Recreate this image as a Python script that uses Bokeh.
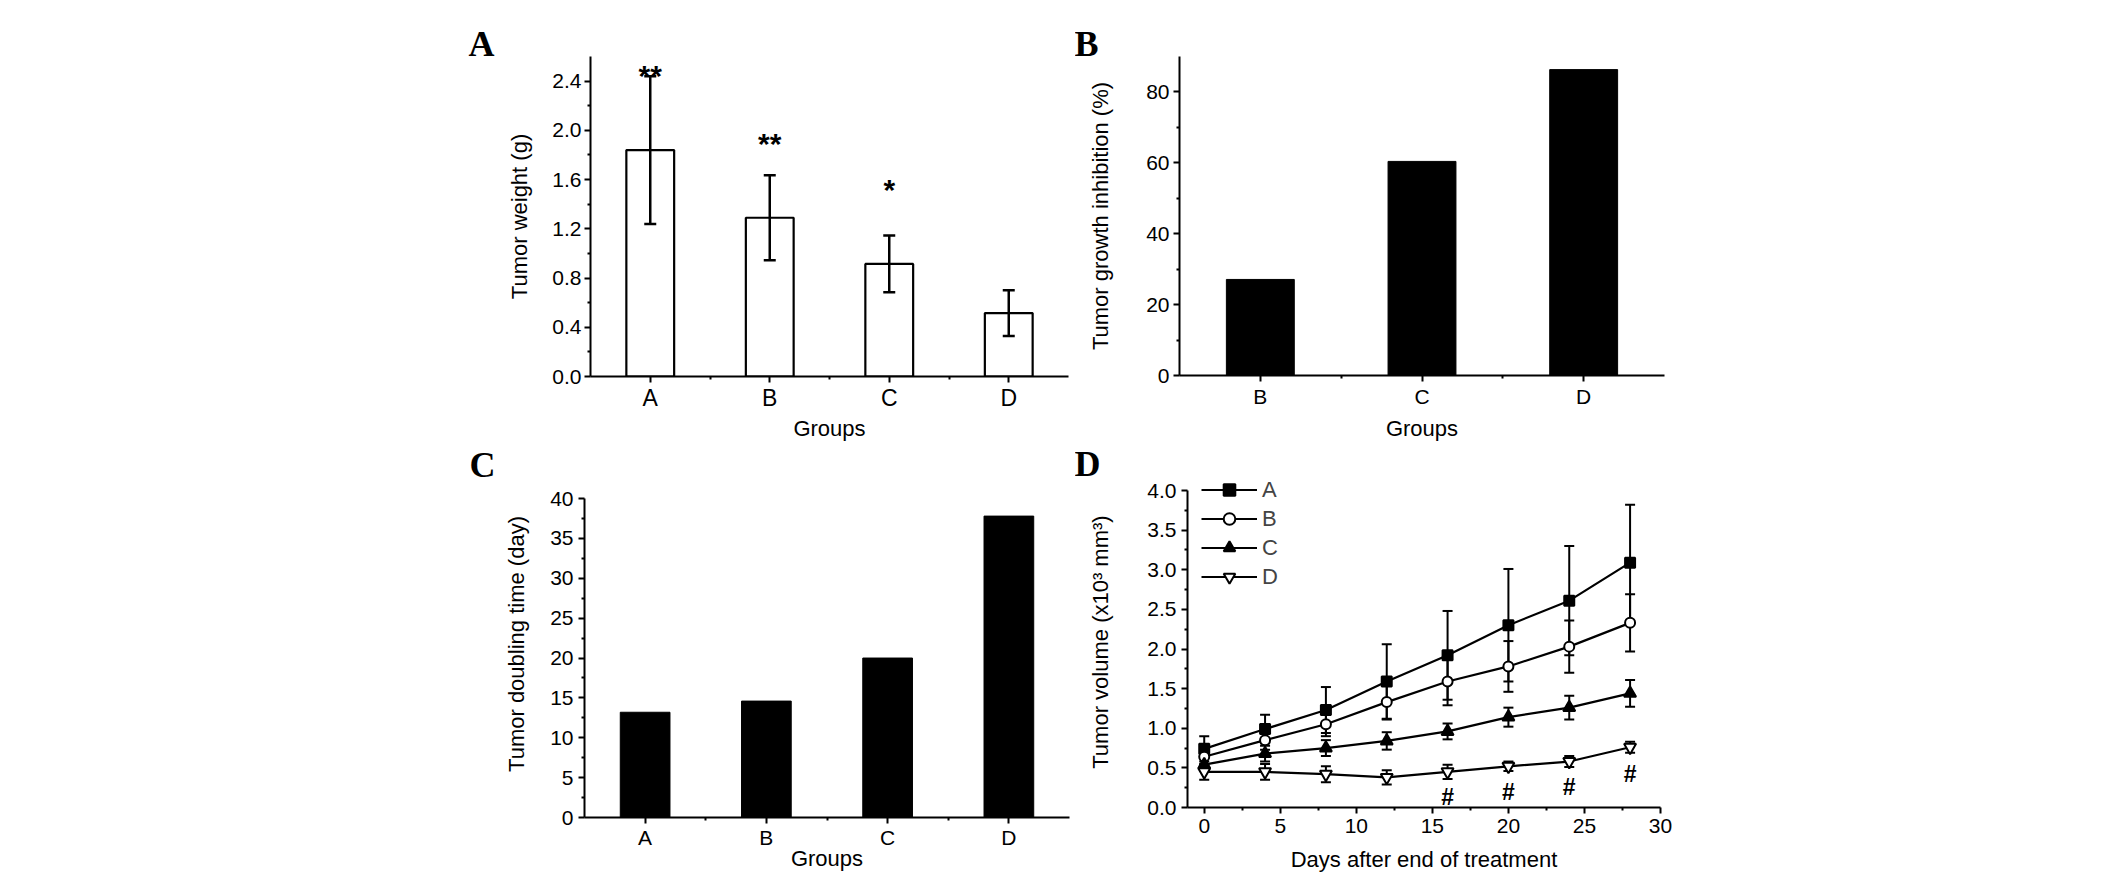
from bokeh.plotting import figure
from bokeh.layouts import row, column
from bokeh.models import (ColumnDataSource, Range1d, FixedTicker, NumeralTickFormatter,
                          Whisker, TeeHead, Title, Legend, LegendItem, Spacer)
from bokeh.core.properties import value
from bokeh.embed import file_html
from bokeh.resources import INLINE

FONT = "Liberation Sans"

# panel A: tumour weight per group
groups_a = ["A", "B", "C", "D"]
weight = [1.84, 1.29, 0.915, 0.515]
weight_err = [0.60, 0.345, 0.23, 0.185]
stars = ["**", "**", "*"]
star_y = [2.49, 1.93, 1.56]

# panel B: growth inhibition
groups_b = ["B", "C", "D"]
inhibition = [27.1, 60.4, 86.3]

# panel C: doubling time
groups_c = ["A", "B", "C", "D"]
doubling = [13.2, 14.6, 20.0, 37.8]

# panel D: tumour volume over time
days = [0, 4, 8, 12, 16, 20, 24, 28]
vol_a = [0.74, 0.99, 1.23, 1.59, 1.92, 2.30, 2.61, 3.09]
err_a = [0.16, 0.18, 0.29, 0.47, 0.56, 0.71, 0.69, 0.73]
vol_b = [0.64, 0.85, 1.05, 1.33, 1.59, 1.78, 2.03, 2.33]
err_b = [0.10, 0.12, 0.15, 0.22, 0.30, 0.32, 0.33, 0.36]
vol_c = [0.54, 0.68, 0.75, 0.84, 0.96, 1.14, 1.26, 1.44]
err_c = [0.08, 0.10, 0.10, 0.11, 0.10, 0.12, 0.15, 0.17]
vol_d = [0.45, 0.45, 0.42, 0.38, 0.45, 0.52, 0.58, 0.76]
err_d = [0.10, 0.10, 0.10, 0.09, 0.09, 0.06, 0.07, 0.07]
hash_days = [16, 20, 24, 28]
hash_y = [0.15, 0.21, 0.27, 0.44]


def make_fig(w, h, left, right, top, bottom, xr, yr):
    p = figure(width=w, height=h, x_range=xr, y_range=yr,
               output_backend="svg", toolbar_location=None,
               min_border_left=left, min_border_right=right,
               min_border_top=top, min_border_bottom=bottom)
    p.outline_line_color = None
    p.grid.visible = False
    for ax in p.axis:
        ax.axis_line_width = 2
        ax.axis_line_color = "black"
        ax.major_tick_line_width = 2
        ax.minor_tick_line_width = 2
        ax.major_tick_line_color = "black"
        ax.minor_tick_line_color = "black"
        ax.major_tick_out = 6
        ax.major_tick_in = 0
        ax.minor_tick_out = 3
        ax.minor_tick_in = 0
        ax.major_label_text_font = FONT
        ax.major_label_text_font_size = "21px"
        ax.major_label_text_color = "black"
        ax.axis_label_text_font = FONT
        ax.axis_label_text_font_size = "22px"
        ax.axis_label_text_font_style = "normal"
        ax.axis_label_text_color = "black"
    return p


def group_axis(p, groups):
    xs = list(range(1, len(groups) + 1))
    p.xaxis.ticker = FixedTicker(ticks=xs, minor_ticks=[x + 0.5 for x in xs[:-1]])
    p.xaxis.major_label_overrides = {x: g for x, g in zip(xs, groups)}
    return xs


def letter(p, txt, offset, standoff):
    # panel letter as a left-aligned title pulled over the axis area
    p.title = Title(text=txt, align="left", offset=offset, standoff=standoff,
                    text_font="Liberation Serif", text_font_style="bold",
                    text_font_size="36px", text_color="black")


# ---- A
pa = make_fig(635, 444, 150, 7, 56, 66, Range1d(0.5, 4.5), Range1d(0, 2.6))
xa = group_axis(pa, groups_a)
pa.yaxis.ticker = FixedTicker(ticks=[0, 0.4, 0.8, 1.2, 1.6, 2.0, 2.4],
                              minor_ticks=[0.2, 0.6, 1.0, 1.4, 1.8, 2.2])
pa.yaxis.formatter = NumeralTickFormatter(format="0.0")
pa.xaxis.major_label_text_font_size = "23px"
pa.xaxis.axis_label = "Groups"
pa.yaxis.axis_label = "Tumor weight (g)"
pa.yaxis.major_label_standoff = 3
pa.yaxis.axis_label_standoff = 17
pa.xaxis.major_label_standoff = 2
pa.xaxis.axis_label_standoff = 2
pa.vbar(x=xa, top=weight, width=0.4, fill_color="white", line_color="black", line_width=2.2)
src_a = ColumnDataSource(dict(x=xa,
                              upper=[w + e for w, e in zip(weight, weight_err)],
                              lower=[w - e for w, e in zip(weight, weight_err)]))
pa.add_layout(Whisker(base="x", upper="upper", lower="lower", source=src_a,
                      line_width=2.5, level="annotation",
                      upper_head=TeeHead(size=12, line_width=2.5),
                      lower_head=TeeHead(size=12, line_width=2.5)))
pa.text(x=xa[:len(stars)], y=star_y, text=stars, text_font=value(FONT),
        text_font_style="bold", text_font_size="30px", text_align="center",
        text_baseline="alphabetic", y_offset=5)
letter(pa, "A", -122, -15)

# ---- B
pb = make_fig(629, 443, 104, 40, 56, 66, Range1d(0.5, 3.5), Range1d(0, 90))
xb = group_axis(pb, groups_b)
pb.yaxis.ticker = FixedTicker(ticks=[0, 20, 40, 60, 80], minor_ticks=[10, 30, 50, 70])
pb.xaxis.axis_label = "Groups"
pb.yaxis.axis_label = "Tumor growth inhibition (%)"
pb.yaxis.major_label_standoff = 4
pb.yaxis.axis_label_standoff = 30
pb.xaxis.major_label_standoff = 3
pb.xaxis.axis_label_standoff = 5
pb.vbar(x=xb, top=inhibition, width=0.42, fill_color="black", line_color="black")
letter(pb, "B", -105, -15)

# ---- C  (range runs a little past 40 so the frame lines up with D; the axis stops at 40)
pc = make_fig(635, 447, 144, 6, 26, 74, Range1d(0.5, 4.5), Range1d(0, 43.52))
xc = group_axis(pc, groups_c)
pc.yaxis.ticker = FixedTicker(ticks=list(range(0, 41, 5)),
                              minor_ticks=[2.5 + 5 * i for i in range(8)])
pc.yaxis.bounds = (0, 40)
pc.xaxis.axis_label = "Groups"
pc.yaxis.axis_label = "Tumor doubling time (day)"
pc.yaxis.major_label_standoff = 5
pc.yaxis.axis_label_standoff = 18
pc.xaxis.major_label_standoff = 2
pc.xaxis.axis_label_standoff = -6
pc.vbar(x=xc, top=doubling, width=0.41, fill_color="black", line_color="black")
letter(pc, "C", -115, -29)

# ---- D  (headroom above 4.0 holds the legend)
pd = make_fig(629, 437, 112, 44, 26, 74, Range1d(-1.1, 30), Range1d(0, 4.2525))
pd.xaxis.ticker = FixedTicker(ticks=list(range(0, 31, 5)),
                              minor_ticks=[2.5 + 5 * i for i in range(6)])
pd.yaxis.ticker = FixedTicker(ticks=[0.5 * i for i in range(9)],
                              minor_ticks=[0.25 + 0.5 * i for i in range(8)])
pd.yaxis.bounds = (0, 4)
pd.yaxis.formatter = NumeralTickFormatter(format="0.0")
pd.xaxis.axis_label = "Days after end of treatment"
pd.yaxis.axis_label = "Tumor volume  (x10\u00b3 mm\u00b3)"
pd.yaxis.major_label_standoff = 5
pd.yaxis.axis_label_standoff = 31
pd.xaxis.major_label_standoff = 5
pd.xaxis.axis_label_standoff = 11

series = [("A", vol_a, err_a, "square", "black", 10),
          ("B", vol_b, err_b, "circle", "white", 10),
          ("C", vol_c, err_c, "triangle", "black", 12),
          ("D", vol_d, err_d, "inverted_triangle", "white", 12)]
items = []
for name, vals, errs, marker, fill, size in series:
    src = ColumnDataSource(dict(x=days, y=vals,
                                upper=[v + e for v, e in zip(vals, errs)],
                                lower=[v - e for v, e in zip(vals, errs)]))
    pd.add_layout(Whisker(base="x", upper="upper", lower="lower", source=src,
                          line_width=2, upper_head=TeeHead(size=10, line_width=2),
                          lower_head=TeeHead(size=10, line_width=2)))
    ln = pd.line("x", "y", source=src, line_color="black", line_width=2.2)
    mk = pd.scatter("x", "y", source=src, marker=marker, size=size,
                    fill_color=fill, line_color="black", line_width=2)
    items.append(LegendItem(label=name, renderers=[ln, mk]))

legend = Legend(items=items, location=(14, 216), padding=0, spacing=0, margin=0,
                glyph_width=56, glyph_height=29, label_height=29, label_standoff=5,
                label_text_font=FONT, label_text_font_size="22px",
                border_line_color=None, background_fill_alpha=0)
pd.add_layout(legend)

pd.text(x=hash_days, y=hash_y, text=["#"] * len(hash_days), text_font=value(FONT),
        text_font_style="bold", text_font_size="23px", text_align="center",
        text_baseline="alphabetic", y_offset=1)
letter(pd, "D", -113, -27)

layout = column(row(Spacer(width=440, height=444), pa, pb),
                row(Spacer(width=440, height=447), pc, pd))

open("out.html", "w").write(file_html(layout, INLINE))
